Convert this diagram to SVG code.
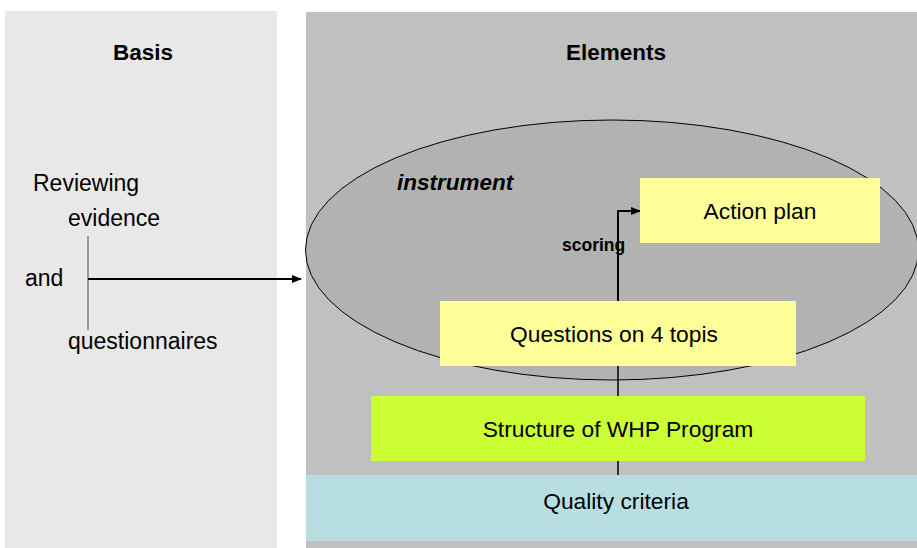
<svg xmlns="http://www.w3.org/2000/svg" width="917" height="548" viewBox="0 0 917 548">
<style>
text{font-family:"Liberation Sans",Arial,sans-serif;fill:#000}
.h{font-size:22.5px;font-weight:bold;text-anchor:middle}
.l{font-size:23px}
.b{font-size:22.8px;text-anchor:middle}
.ln{stroke:#000;stroke-width:1.5;fill:none}
</style>
<defs>
<marker id="ah" markerWidth="10" markerHeight="8" refX="9" refY="4" orient="auto" markerUnits="userSpaceOnUse">
<path d="M0,0 L10,4 L0,8 Z" fill="#000"/>
</marker>
</defs>
<rect width="917" height="548" fill="#fff"/>
<g id="basis">
<rect x="5" y="11" width="272" height="537" fill="#e8e8e8"/>
<text class="h" x="143" y="60">Basis</text>
<text class="l" x="33" y="191">Reviewing</text>
<text class="l" x="68" y="226">evidence</text>
<text class="l" x="25" y="286">and</text>
<text class="l" x="68" y="349">questionnaires</text>
</g>
<g id="elements">
<rect x="306" y="12" width="611" height="536" fill="#c0c0c0"/>
<text class="h" x="616" y="60">Elements</text>
</g>
<g id="instrument">
<ellipse cx="612" cy="250" rx="306.5" ry="130" fill="#b2b2b2" stroke="#000" stroke-width="1"/>
<text x="397" y="190" style="font-size:22.5px;font-weight:bold;font-style:italic">instrument</text>
</g>
<g id="connectors">
<line x1="88" y1="236" x2="88" y2="330" stroke="#666" stroke-width="1.2"/>
<line x1="88" y1="279" x2="301" y2="279" stroke="#000" stroke-width="2" marker-end="url(#ah)"/>
<polyline points="618,302 618,211 640,211" stroke="#000" stroke-width="2" fill="none" marker-end="url(#ah)"/>
<line class="ln" x1="618" y1="366" x2="618" y2="475"/>
</g>
<text x="562" y="251" style="font-size:17.5px;font-weight:bold">scoring</text>
<g id="action-plan">
<rect x="640" y="178" width="240" height="65" fill="#ffff99"/>
<text class="b" x="760" y="219">Action plan</text>
</g>
<g id="questions">
<rect x="440" y="301" width="356" height="65" fill="#ffff99"/>
<text class="b" x="614" y="342">Questions on 4 topis</text>
</g>
<g id="structure">
<rect x="371" y="396" width="494" height="65" fill="#ccff33"/>
<text class="b" x="618" y="437">Structure of WHP Program</text>
</g>
<g id="quality">
<rect x="306" y="475" width="611" height="66" fill="#b7dfe1"/>
<text class="b" x="616" y="509">Quality criteria</text>
</g>
</svg>
